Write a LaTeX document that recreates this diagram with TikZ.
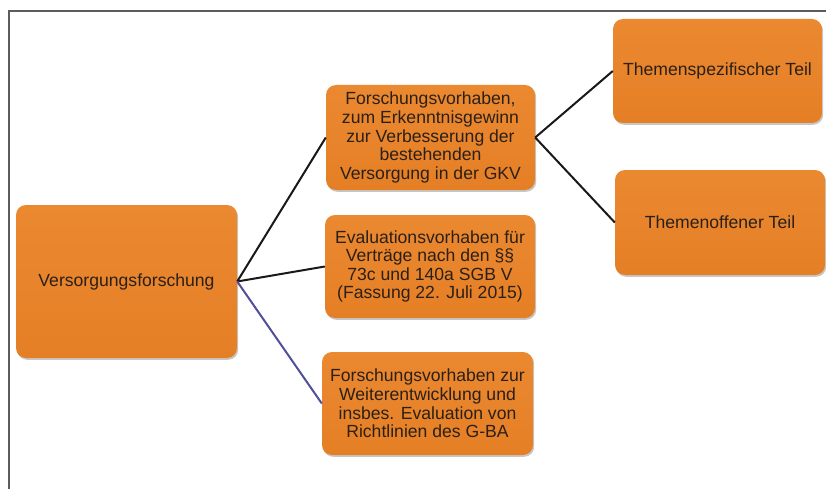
\documentclass[tikz,border=0pt]{standalone}
\usepackage{fontspec}
\setmainfont{Liberation Sans}
\usetikzlibrary{shadows}
\definecolor{boxtop}{HTML}{EB8930}
\definecolor{boxbot}{HTML}{E57F26}
\definecolor{boxtext}{HTML}{2A2018}
\definecolor{framegray}{HTML}{5C5C5C}
\definecolor{linkblue}{HTML}{50509A}
\begin{document}
\begin{tikzpicture}[x=1pt,y=-1pt,
  orangebox/.style={draw=none, rounded corners=10pt, top color=boxtop, bottom color=boxbot,
    text=boxtext, align=center, inner sep=1pt,
    font=\fontsize{17.6}{18.6}\selectfont,
    drop shadow={shadow xshift=1.2pt, shadow yshift=-1.8pt, fill=black, opacity=0.22}},
  linkline/.style={draw=black!90, line width=2pt},
  linkblueline/.style={draw=linkblue, line width=2pt},
  frameline/.style={draw=framegray, line width=2.8pt}]
\useasboundingbox (0,0) rectangle (826,489);
\coordinate (ftr) at (826,11);
\coordinate (ftl) at (9,11);
\coordinate (fbl) at (9,489);
\draw[frameline] (ftr) -- (ftl) -- (fbl);

\node[orangebox, minimum width=221pt, minimum height=153pt] (v) at (126.5,281.5) {Versorgungsforschung};
\node[orangebox, minimum width=209pt, minimum height=105pt] (b1) at (430.5,137.5)
  {Forschungsvorhaben,\\zum Erkenntnisgewinn\\zur Verbesserung der\\bestehenden\\Versorgung in der GKV};
\node[orangebox, minimum width=210pt, minimum height=103pt] (b2) at (430,266.5)
  {Evaluationsvorhaben für\\Verträge nach den §§\\73c und 140a SGB V\\(Fassung 22. Juli 2015)};
\node[orangebox, minimum width=211pt, minimum height=103pt] (b3) at (427.5,403.5)
  {Forschungsvorhaben zur\\Weiterentwicklung und\\insbes. Evaluation von\\Richtlinien des G-BA};
\node[orangebox, minimum width=209pt, minimum height=104pt] (b4) at (717.5,71)
  {Themenspezifischer Teil};
\node[orangebox, minimum width=210pt, minimum height=105pt] (b5) at (720,222.5)
  {Themenoffener Teil};

\draw[linkline] (v.east) -- (b1.west);
\draw[linkline] (v.east) -- (b2.west);
\draw[linkblueline] (v.east) -- (b3.west);
\draw[linkline] (b1.east) -- (b4.west);
\draw[linkline] (b1.east) -- (b5.west);
\end{tikzpicture}
\end{document}
